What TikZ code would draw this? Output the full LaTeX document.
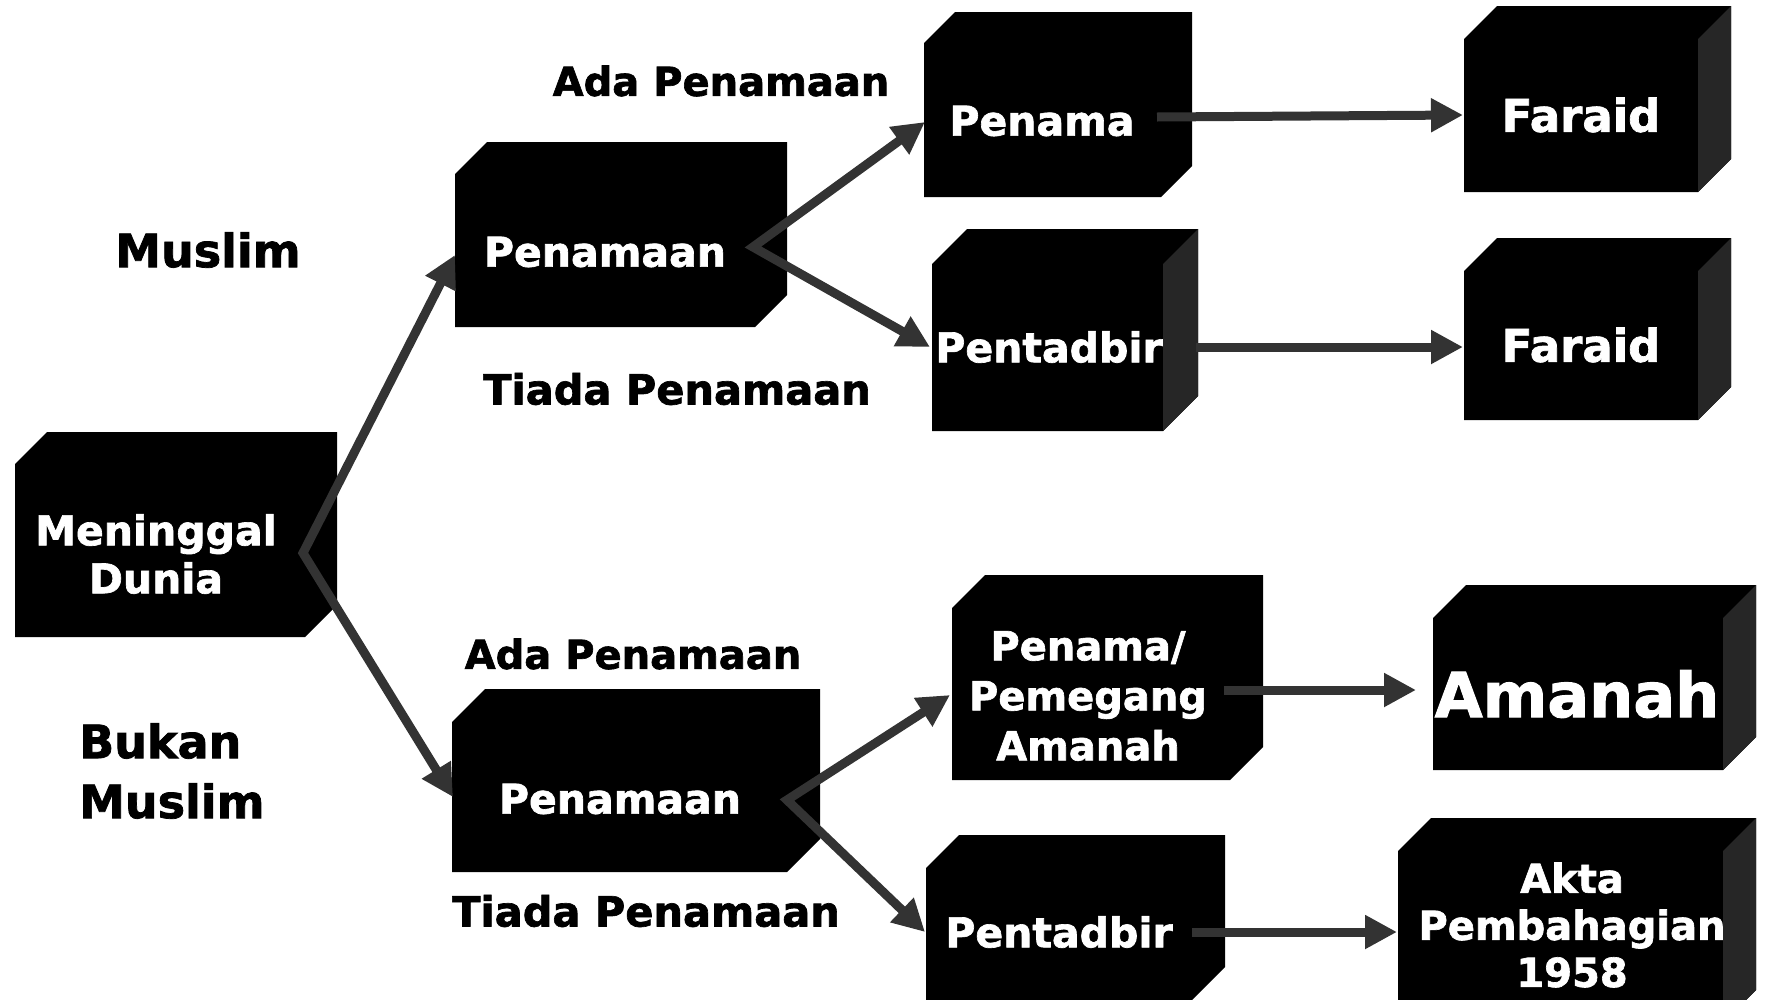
\documentclass[tikz,border=0pt]{standalone}
\usepackage{fontspec}
\setmainfont{DejaVu Sans}[BoldFeatures={FakeBold=1.6}]
\usetikzlibrary{arrows.meta}
\definecolor{arrowgray}{HTML}{333333}
\definecolor{sidegray}{HTML}{262626}
\newcommand{\cubebox}[5]{\fill[black] (#1,#2+#5) -- (#1+#5,#2) -- (#3,#2) -- (#3,#4-#5) -- (#3-#5,#4) -- (#1,#4) -- cycle;}
\newcommand{\cubeside}[5]{\fill[sidegray] (#3-#5,#2+#5) -- (#3,#2) -- (#3,#4-#5) -- (#3-#5,#4) -- cycle;}
\tikzset{
  boxtext/.style={text=white, font=\bfseries\fontsize{41}{48}\selectfont, align=center, inner sep=0pt},
  lbl/.style={text=black, font=\bfseries\fontsize{40}{48}\selectfont, align=center, inner sep=0pt},
  conn/.style={draw=arrowgray, line width=9pt, -{Triangle[length=32pt,width=32pt]}},
  conn2/.style={draw=arrowgray, line width=9pt, {Triangle[length=32pt,width=32pt]}-{Triangle[length=32pt,width=32pt]}}
}
\begin{document}
\begin{tikzpicture}[x=1pt,y=-1pt]
\useasboundingbox (0,0) rectangle (1769,999);
% boxes
\cubebox{15}{432}{337}{637}{32}
\cubebox{455}{142}{787}{327}{32}
\cubebox{924}{12}{1192}{197}{31}
\cubebox{1464}{6}{1731}{192}{33}\cubeside{1464}{6}{1731}{192}{33}
\cubebox{932}{229}{1198}{431}{35}\cubeside{932}{229}{1198}{431}{35}
\cubebox{1464}{238}{1731}{420}{33}\cubeside{1464}{238}{1731}{420}{33}
\cubebox{952}{575}{1263}{780}{33}
\cubebox{1433}{585}{1756}{770}{33}\cubeside{1433}{585}{1756}{770}{33}
\cubebox{452}{689}{820}{872}{33}
\cubebox{926}{835}{1225}{1000}{33}
\cubebox{1398}{818}{1756}{1023}{33}\cubeside{1398}{818}{1756}{1023}{33}
% box texts
\node[boxtext] (mati) at (156,554) {Meninggal\\Dunia};
\node[boxtext] (pnm1) at (605,252) {Penamaan};
\node[boxtext] (penama1) at (1042,121) {Penama};
\node[boxtext, font=\bfseries\fontsize{45}{50}\selectfont] (faraid1) at (1581,115) {Faraid};
\node[boxtext] (pentadbir1) at (1049,347) {Pentadbir};
\node[boxtext, font=\bfseries\fontsize{45}{50}\selectfont] (faraid2) at (1581,345) {Faraid};
\node[boxtext, font=\bfseries\fontsize{40}{50}\selectfont] (pemegang) at (1088,696) {Penama/\\Pemegang\\Amanah};
\node[boxtext, font=\bfseries\fontsize{62}{70}\selectfont] (amanah) at (1577,694) {Amanah};
\node[boxtext] (pnm2) at (620,799) {Penamaan};
\node[boxtext] (pentadbir2) at (1059,932) {Pentadbir};
\node[boxtext, font=\bfseries\fontsize{40}{47}\selectfont] (akta) at (1572,925) {Akta\\Pembahagian\\1958};
% labels
\node[lbl] (ada1) at (721,81) {Ada Penamaan};
\node[lbl, font=\bfseries\fontsize{46}{60}\selectfont] (muslim) at (208,250) {Muslim};
\node[lbl, font=\bfseries\fontsize{41.5}{48}\selectfont] (tiada1) at (677,389) {Tiada Penamaan};
\node[lbl] (ada2) at (633,654) {Ada Penamaan};
\node[lbl, font=\bfseries\fontsize{46}{60}\selectfont, align=left, anchor=west] (bukan) at (79,771) {Bukan\\Muslim};
\node[lbl, font=\bfseries\fontsize{41.5}{48}\selectfont] (tiada2) at (646,911) {Tiada Penamaan};
% connector end points
\coordinate (mati-out) at (303,553);
\coordinate (pnm1-in) at (455,255);
\coordinate (pnm2-in) at (453,797);
\coordinate (pnm1-out) at (753,247);
\coordinate (penama1-in) at (925,122);
\coordinate (pentadbir1-in) at (930,347);
\coordinate (pnm2-out) at (787,800);
\coordinate (pemegang-in) at (950,695);
\coordinate (pentadbir2-in) at (925,932);
\coordinate (penama1-out) at (1157,117);
\coordinate (faraid1-in) at (1463,115);
\coordinate (pentadbir1-out) at (1196,347);
\coordinate (faraid2-in) at (1463,347);
\coordinate (pemegang-out) at (1224,690);
\coordinate (amanah-in) at (1416,690);
\coordinate (pentadbir2-out) at (1192,932);
\coordinate (akta-in) at (1397,932);
% connectors
\draw[conn2] (pnm1-in) -- (mati-out) -- (pnm2-in);
\draw[conn2] (penama1-in) -- (pnm1-out) -- (pentadbir1-in);
\draw[conn2] (pemegang-in) -- (pnm2-out) -- (pentadbir2-in);
\draw[conn] (penama1-out) -- (faraid1-in);
\draw[conn] (pentadbir1-out) -- (faraid2-in);
\draw[conn] (pemegang-out) -- (amanah-in);
\draw[conn] (pentadbir2-out) -- (akta-in);
\end{tikzpicture}
\end{document}
